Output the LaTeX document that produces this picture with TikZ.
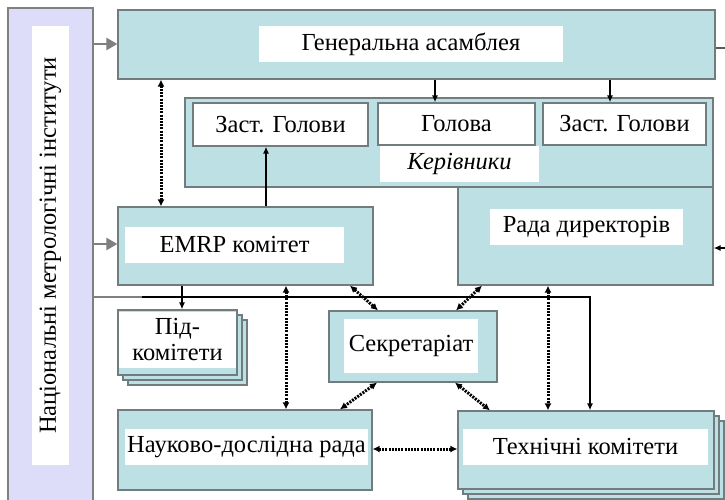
\documentclass[tikz,border=0pt]{standalone}
\usepackage{fontspec}
\setmainfont{Liberation Serif}
\usetikzlibrary{arrows.meta}
\definecolor{tealf}{RGB}{189,224,228}
\definecolor{bord}{RGB}{112,124,126}
\definecolor{lavf}{RGB}{221,221,250}
\definecolor{garr}{RGB}{128,128,128}
\tikzset{
  box/.style={draw=bord, line width=1.2pt, fill=tealf, inner sep=0pt},
  lbl/.style={fill=white, inner sep=0pt},
  wbox/.style={draw=bord, line width=1.2pt, fill=white, inner sep=0pt},
  garrow/.style={draw=garr, line width=2.4pt, -{Triangle[length=11pt,width=12pt]}},
  barrow/.style={draw=black, line width=1.8pt, -{Latex[length=7pt,width=6pt]}},
  dd/.style={draw=black, line width=3pt, dash pattern=on 2pt off 1.2pt,
     {Latex[length=7pt,width=7pt]}-{Latex[length=7pt,width=7pt]}},
}
\begin{document}
\begin{tikzpicture}[x=1pt,y=-1pt, font=\fontsize{24.5}{26}\selectfont]
\useasboundingbox (0,0) rectangle (725,500);
\fill[white] (0,0) rectangle (725,500);
% left panel
\node[draw=garr, line width=1.8pt, fill=lavf, inner sep=0pt, minimum width=85, minimum height=504] (lav) at (50.5,260) {};
\node[lbl, minimum width=37, minimum height=439] (lavl) at (50.5,245.5) {};
\node[rotate=90, inner sep=0pt] (lavt) at (50.5,245.5) {Національні метрологічні інститути};
% General assembly
\node[box, minimum width=597, minimum height=69] (ga) at (416.5,44.5) {};
\node[lbl, minimum width=304, minimum height=36] (gal) at (411,44) {Генеральна асамблея};
% Kerivnyky container
\node[box, minimum width=528, minimum height=89] (ker) at (449,142.5) {};
\node[wbox, minimum width=175, minimum height=43] (z1) at (280.5,124.5) {Заст. Голови};
\node[wbox, minimum width=157, minimum height=42] (hol) at (456.5,124) {Голова};
\node[lbl, minimum width=159, minimum height=36] (kerl) at (459.5,164) {\itshape Керівники};
\node[wbox, minimum width=163, minimum height=42] (z2) at (624.5,124) {Заст. Голови};
% Rada
\node[box, minimum width=255, minimum height=98] (rada) at (585.5,236) {};
\node[lbl, minimum width=193, minimum height=36] (radal) at (586.5,227) {Рада директорів};
% EMRP
\node[box, minimum width=255, minimum height=78] (emrp) at (245.5,246) {};
\node[lbl, minimum width=219, minimum height=36] (emrpl) at (234.5,245) {EMRP комітет};
% Pidkomitety (stacked)
\node[box, minimum width=119, minimum height=65] (pid2) at (187.5,352.5) {};
\node[box, minimum width=119, minimum height=65] (pid1) at (182.5,347.5) {};
\node[box, minimum width=119, minimum height=65] (pid) at (177.5,342.5) {};
\node[lbl, minimum width=117, minimum height=56, align=center] (pidl) at (177.5,339.5) {Під-\\комітети};
% Secretariat
\node[box, minimum width=168, minimum height=71] (sek) at (413,346.5) {};
\node[lbl, minimum width=134, minimum height=54] (sekl) at (411,346) {Секретаріат};
% NDR
\node[box, minimum width=254, minimum height=80] (ndr) at (245,450) {};
\node[lbl, minimum width=243, minimum height=36] (ndrl) at (246.5,447) {Науково-дослідна рада};
% Technical committees (stacked)
\node[box, minimum width=256, minimum height=78] (tech2) at (596,460) {};
\node[box, minimum width=256, minimum height=78] (tech1) at (591,455) {};
\node[box, minimum width=256, minimum height=78] (tech) at (586,450) {};
\node[lbl, minimum width=245, minimum height=36] (techl) at (585.5,447) {Технічні комітети};
% grey arrows from left panel
\draw[garrow] (lav.east |- 0,44) -- (ga.west |- 0,44);
\draw[garrow] (lav.east |- 0,244) -- (emrp.west |- 0,244);
% bus line
\coordinate (bus) at (142,297);
\draw[draw=garr, line width=2pt] (lav.east |- bus) -- (bus);
\draw[barrow] (bus) -| (tech.north -| 590,0);
% right side lines (leaving the picture)
\coordinate (rt1) at (740,48);
\coordinate (rt2) at (740,248);
\draw[draw=garr!70!black, line width=1.5pt] (ga.east |- rt1) -- (rt1);
\draw[barrow] (rt2) -- (rada.east |- rt2);
% solid arrows
\draw[barrow] (ga.south -| 435,0) -- (hol.north -| 435,0);
\draw[barrow] (ga.south -| 610,0) -- (z2.north -| 610,0);
\draw[barrow] (emrp.north -| 266,0) -- (z1.south -| 266,0);
\draw[barrow] (emrp.south -| 182,0) -- (pid.north -| 182,0);
% dotted double arrows
\draw[dd] (ga.south -| 161,0) -- (emrp.north -| 161,0);
\draw[dd] (emrp.south -| 286,0) -- (ndr.north -| 286,0);
\draw[dd] (emrp.south -| 350,0) -- (sek.north -| 378,0);
\draw[dd] (rada.south -| 482,0) -- (sek.north -| 456,0);
\draw[dd] (sek.south -| 377,0) -- (ndr.north -| 340,0);
\draw[dd] (sek.south -| 455,0) -- (tech.north -| 490,0);
\draw[dd] (rada.south -| 548,0) -- (tech.north -| 548,0);
\draw[dd] (ndr.east |- 0,449) -- (tech.west |- 0,449);
\end{tikzpicture}
\end{document}
